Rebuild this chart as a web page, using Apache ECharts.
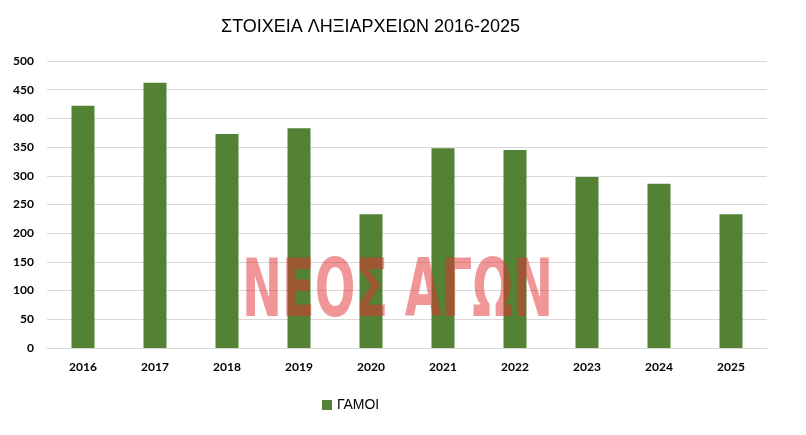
<!DOCTYPE html>
<html><head><meta charset="utf-8">
<script src="https://cdn.jsdelivr.net/npm/echarts@6/dist/echarts.min.js"></script>
<style>html,body{margin:0;padding:0;background:#fff}#c{width:806px;height:435px}</style>
</head><body><div id="c"></div>
<script>
const titleText = 'ΣΤΟΙΧΕΙΑ ΛΗΞΙΑΡΧΕΙΩΝ 2016-2025';
const years = ['2016','2017','2018','2019','2020','2021','2022','2023','2024','2025'];
const seriesName = 'ΓΑΜΟΙ';
const marriages = [422, 462, 373, 383, 233, 348, 345, 298, 286, 233];
const yTicks = [0, 50, 100, 150, 200, 250, 300, 350, 400, 450, 500];
const watermark = 'ΝΕΟΣ ΑΓΩΝ';

const chart = echarts.init(document.getElementById('c'), null, {renderer:'canvas'});
chart.setOption({
  animation: false,
  backgroundColor: '#fff',
  title: {text: titleText, left: 216, top: 13, textStyle: {fontFamily: 'Liberation Sans', fontSize: 18, fontWeight: 'normal', color: '#000'}},
  legend: {bottom: 18, left: 317, itemWidth: 10, itemHeight: 10, icon: 'rect', itemGap: 5,
    textStyle: {fontFamily: 'Liberation Sans', fontSize: 14, color: '#000'}, data: [seriesName]},
  grid: {left: 47, right: 39, top: 61, bottom: 87, containLabel: false},
  xAxis: {type: 'category', data: years, axisTick: {show: false},
    axisLine: {lineStyle: {color: '#d9d9d9'}},
    axisLabel: {fontFamily: 'Lato', fontSize: 12, fontWeight: 'bold', color: '#000', margin: 13}},
  yAxis: {type: 'value', min: yTicks[0], max: yTicks[yTicks.length-1], interval: yTicks[1]-yTicks[0],
    axisLine: {show: false}, axisTick: {show: false},
    splitLine: {lineStyle: {color: '#d9d9d9'}},
    axisLabel: {fontFamily: 'Lato', fontSize: 12, fontWeight: 'bold', color: '#000', margin: 13}},
  series: [{name: seriesName, type: 'bar', data: marriages, barWidth: 23, itemStyle: {color: '#548235'}}],
  graphic: [{type: 'text', left: 242, top: 256, z: 100,
    style: {text: watermark, font: 'bold 80px "DejaVu Sans Condensed"', fill: 'rgba(228,45,45,0.5)'},
    scaleX: 0.665, scaleY: 0.99}]
});
</script></body></html>
